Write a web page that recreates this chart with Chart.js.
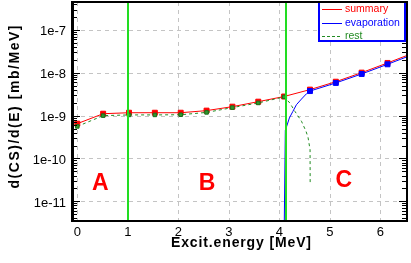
<!DOCTYPE html>
<html><head><meta charset="utf-8">
<script src="https://cdn.jsdelivr.net/npm/chart.js@4"></script>
<style>html,body{margin:0;padding:0;background:#fff;overflow:hidden}canvas{display:block}</style>
</head><body>
<canvas id="c" width="411" height="263"></canvas>
<script>
// ---- data ----
const binE = [0, 0.512, 1.024, 1.536, 2.048, 2.56, 3.072, 3.584, 4.096, 4.608, 5.12, 5.632, 6.144, 6.656];
const summaryCS = [6.5e-10, 1.11e-9, 1.17e-9, 1.17e-9, 1.17e-9, 1.31e-9, 1.62e-9, 2.12e-9, 2.8e-9, 4.05e-9, 6.2e-9, 1.01e-8, 1.70e-8, 2.9e-8];

const evapE  = [4.085, 4.12, 4.20, 4.27, 4.34, 4.44, 4.54, 4.608, 5.12, 5.632, 6.144, 6.656];
const evapCS = [1e-13, 4.5e-10, 8.8e-10, 1.26e-9, 1.8e-9, 2.44e-9, 3.25e-9, 3.75e-9, 5.8e-9, 9.4e-9, 1.58e-8, 2.7e-8];

const restE  = [0, 0.512, 1.024, 1.536, 2.048, 2.56, 3.072, 3.584, 4.096, 4.21, 4.31, 4.44, 4.53, 4.57, 4.61, 4.612];
const restCS = [5.6e-10, 1.0e-9, 1.04e-9, 1.04e-9, 1.05e-9, 1.19e-9, 1.54e-9, 1.98e-9, 2.74e-9, 1.97e-9, 1.26e-9, 7.4e-10, 4.3e-10, 3.1e-10, 1.6e-10, 2.8e-11];

const seriesNames = ['summary', 'evaporation', 'rest'];
const xTicks = [0, 1, 2, 3, 4, 5, 6];
const xTickLabels = ['0', '1', '2', '3', '4', '5', '6'];
const yTicks = [1e-11, 1e-10, 1e-9, 1e-8, 1e-7];
const yTickLabels = ['1e-11', '1e-10', '1e-9', '1e-8', '1e-7'];
const boundaryE = [1, 4.14];
const regionLabels = ['A', 'B', 'C'];
const regionE = [0.455, 2.57, 5.28];
const regionCS = [2.79e-11, 2.79e-11, 3.37e-11];
const xRange = [-0.085, 6.51];
const yRange = [3.47e-12, 4.5e-7];
const xTitle = 'Excit.energy [MeV]';
const yTitle = 'd(CS)/d(E) [mb/MeV]';

// ---- helpers ----
const pts = (xs, ys) => xs.map((x, i) => ({x: x, y: ys[i]}));
const isBin = x => binE.some(b => Math.abs(b - x) < 1e-9);
const FONT = "'Liberation Sans', Arial, sans-serif";
const COL = {summary: '#ff0000', evaporation: '#0000ff', rest: '#228b22', restMark: '#2e9a2e', bound: '#22dd22'};

function spacedText(ctx, text, x, y, target) {
  ctx.letterSpacing = '0px';
  const w = ctx.measureText(text).width;
  const sp = Math.max(0, (target - w) / (text.length - 1));
  ctx.letterSpacing = sp + 'px';
  ctx.textAlign = 'left';
  ctx.fillText(text, x - target / 2, y);
  ctx.letterSpacing = '0px';
}

const deco = {
  id: 'deco',
  beforeDatasetsDraw(chart) {
    const ctx = chart.ctx, a = chart.chartArea, xs = chart.scales.x, ys = chart.scales.y;
    ctx.save();
    ctx.strokeStyle = '#c4c4c4';
    ctx.lineWidth = 1;
    ctx.setLineDash([4, 4]);
    xTicks.forEach(v => {
      const px = Math.round(xs.getPixelForValue(v)) + 0.5;
      ctx.beginPath(); ctx.moveTo(px, a.top); ctx.lineTo(px, a.bottom); ctx.stroke();
    });
    yTicks.forEach(v => {
      const py = Math.round(ys.getPixelForValue(v)) + 0.5;
      ctx.beginPath(); ctx.moveTo(a.left, py); ctx.lineTo(a.right, py); ctx.stroke();
    });
    ctx.restore();
  },
  afterDatasetsDraw(chart) {
    const ctx = chart.ctx, a = chart.chartArea, xs = chart.scales.x, ys = chart.scales.y;
    ctx.save();
    // region boundaries
    ctx.strokeStyle = COL.bound; ctx.lineWidth = 2;
    boundaryE.forEach(v => {
      const px = Math.round(xs.getPixelForValue(v));
      ctx.beginPath(); ctx.moveTo(px, a.top); ctx.lineTo(px, a.bottom); ctx.stroke();
    });
    // region letters
    ctx.fillStyle = '#ff0000';
    ctx.font = 'bold 23px ' + FONT;
    ctx.textAlign = 'center'; ctx.textBaseline = 'alphabetic';
    regionLabels.forEach((t, i) => {
      ctx.fillText(t, xs.getPixelForValue(regionE[i]), ys.getPixelForValue(regionCS[i]) + 8.2);
    });
    // minor / major ticks inside left and right
    ctx.strokeStyle = '#000'; ctx.lineWidth = 1;
    for (let d = -12; d <= -7; d++) {
      for (let m = 1; m <= 9; m++) {
        const v = m * Math.pow(10, d);
        if (v < yRange[0] || v > yRange[1]) continue;
        const py = Math.round(ys.getPixelForValue(v)) + 0.5;
        const len = m === 1 ? 6 : 3;
        ctx.beginPath(); ctx.moveTo(a.left, py); ctx.lineTo(a.left + 1 + len, py); ctx.stroke();
        ctx.beginPath(); ctx.moveTo(a.right, py); ctx.lineTo(a.right - len - 1, py); ctx.stroke();
      }
    }
    // legend box
    const bx = 318, by = 2, bw = 88, bh = 40;
    ctx.fillStyle = '#fff';
    ctx.fillRect(bx, by, bw, bh);
    ctx.strokeStyle = '#0000ff'; ctx.lineWidth = 2;
    ctx.strokeRect(bx + 1, by, bw - 2, bh - 1);
    const rows = [9, 22.5, 35.5];
    const cols = [COL.summary, COL.evaporation, COL.rest];
    ctx.font = '10.5px ' + FONT; ctx.textAlign = 'left'; ctx.textBaseline = 'alphabetic';
    seriesNames.forEach((n, i) => {
      ctx.strokeStyle = cols[i]; ctx.lineWidth = 1;
      ctx.setLineDash(i === 2 ? [3, 2] : []);
      ctx.beginPath(); ctx.moveTo(322, Math.round(rows[i]) + 0.5); ctx.lineTo(342, Math.round(rows[i]) + 0.5); ctx.stroke();
      ctx.setLineDash([]);
      ctx.fillStyle = cols[i];
      ctx.fillText(n, 345, rows[i] + 3);
    });
    // frame
    ctx.fillStyle = '#000';
    ctx.fillRect(a.left - 2, a.top - 1, 3, a.bottom - a.top + 2);
    ctx.fillRect(a.left - 2, a.top - 1, a.right - a.left + 4, 2);
    ctx.fillRect(a.right, a.top - 1, 2, a.bottom - a.top + 2);
    ctx.fillRect(a.left - 2, a.bottom - 1, a.right - a.left + 4, 2);
    ctx.restore();
  },
  afterDraw(chart) {
    const ctx = chart.ctx, xs = chart.scales.x, ys = chart.scales.y;
    ctx.save();
    ctx.fillStyle = '#000';
    ctx.textBaseline = 'alphabetic';
    // tick labels
    ctx.font = '13px ' + FONT;
    ctx.textAlign = 'center';
    xTicks.forEach((v, i) => ctx.fillText(xTickLabels[i], xs.getPixelForValue(v), 235.5));
    ctx.textAlign = 'right';
    yTicks.forEach((v, i) => ctx.fillText(yTickLabels[i], 66, ys.getPixelForValue(v) + 5.5));
    // axis titles
    ctx.font = 'bold 14px ' + FONT;
    spacedText(ctx, xTitle, 241, 247, 140);
    ctx.translate(19, 107);
    ctx.rotate(-Math.PI / 2);
    spacedText(ctx, yTitle, 0, 0, 163);
    ctx.restore();
  }
};

new Chart(document.getElementById('c'), {
  type: 'line',
  data: {
    datasets: [
      {
        label: seriesNames[1], data: pts(evapE, evapCS), order: 0,
        borderColor: COL.evaporation, borderWidth: 1, tension: 0, fill: false,
        pointStyle: 'rect', pointRadius: c => (c.raw && isBin(c.raw.x) ? 3.5 : 0),
        pointBackgroundColor: COL.evaporation, pointBorderColor: COL.evaporation, pointBorderWidth: 1
      },
      {
        label: seriesNames[2], data: pts(restE, restCS), order: 1,
        borderColor: COL.rest, borderWidth: 1, borderDash: [3, 3], tension: 0, fill: false,
        pointStyle: 'rect', pointRadius: c => (c.raw && isBin(c.raw.x) ? 2.5 : 0),
        pointBackgroundColor: COL.restMark, pointBorderColor: '#1c6e1c', pointBorderWidth: 1
      },
      {
        label: seriesNames[0], data: pts(binE, summaryCS), order: 2,
        borderColor: COL.summary, borderWidth: 1, tension: 0, fill: false,
        pointStyle: 'rect', pointRadius: 3.5,
        pointBackgroundColor: COL.summary, pointBorderColor: COL.summary, pointBorderWidth: 1
      }
    ]
  },
  options: {
    responsive: false, animation: false, events: [],
    layout: {autoPadding: false, padding: {left: 0, right: 5, top: 2, bottom: 0}},
    plugins: {legend: {display: false}, tooltip: {enabled: false}},
    elements: {point: {hoverRadius: 0}},
    scales: {
      x: {
        type: 'linear', min: xRange[0], max: xRange[1],
        grid: {display: false}, border: {display: false},
        ticks: {display: false},
        afterBuildTicks: s => { s.ticks = xTicks.map(v => ({value: v})); },
        afterFit: s => { s.height = 42; s.paddingLeft = 0; s.paddingRight = 0; }
      },
      y: {
        type: 'logarithmic', min: yRange[0], max: yRange[1],
        grid: {display: false}, border: {display: false},
        ticks: {display: false},
        afterBuildTicks: s => { s.ticks = yTicks.map(v => ({value: v})); },
        afterFit: s => { s.width = 73; s.paddingTop = 0; s.paddingBottom = 0; }
      }
    }
  },
  plugins: [deco]
});
</script>
</body></html>
